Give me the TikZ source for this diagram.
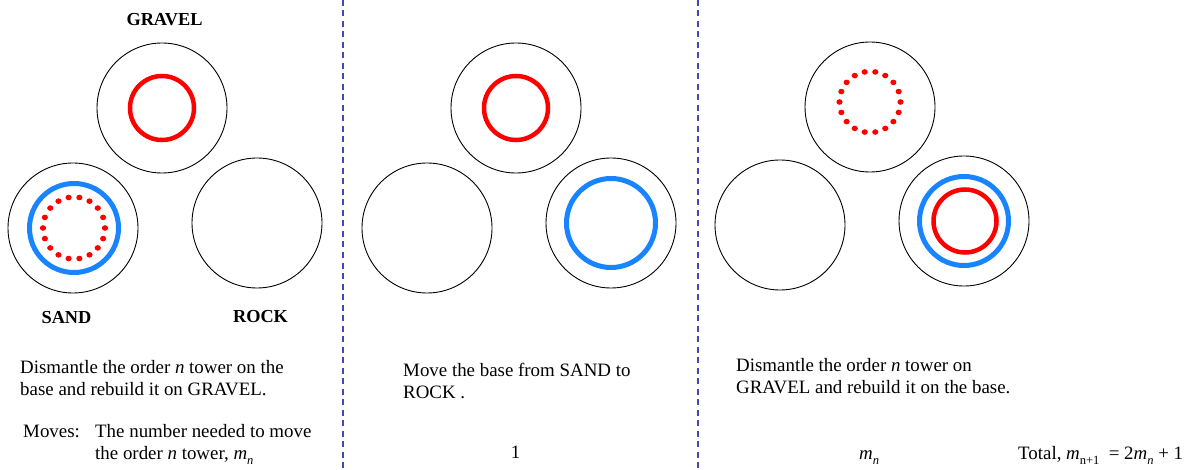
\documentclass[tikz,border=0pt]{standalone}
\usepackage{fontspec}
\setmainfont{Liberation Serif}
\definecolor{ringred}{RGB}{255,0,0}
\definecolor{ringblue}{RGB}{24,132,255}
\definecolor{divider}{RGB}{70,70,180}
% small lowered subscript for text-mode formulas
\newcommand\lowsub[1]{\raisebox{-0.3em}{\fontsize{12.5}{12.5}\selectfont #1}}
\begin{document}
\begin{tikzpicture}[x=1pt,y=-1pt,
  peg/.style={circle,draw=black,line width=0.9pt,minimum size=130pt,inner sep=0pt},
  bigdisc/.style={draw=ringblue,line width=5pt},
  smalldisc/.style={draw=ringred,line width=4.5pt},
  dot/.style={fill=ringred},
  pegname/.style={font=\fontsize{18.3}{18}\selectfont\bfseries,anchor=base,inner sep=0pt},
  txt/.style={font=\fontsize{18.9}{22}\selectfont,anchor=base west,inner sep=0pt},
  divline/.style={draw=divider,line width=1.2pt,dash pattern=on 6pt off 4.5pt}]
\useasboundingbox (0,0) rectangle (1193,470);

% panel dividers
\coordinate (d1t) at (343,0);   \coordinate (d1b) at (343,470);
\coordinate (d2t) at (698,0);   \coordinate (d2b) at (698,470);
\draw[divline] (d1t) -- (d1b);
\draw[divline] (d2t) -- (d2b);

% ---------- panel 1 ----------
\node[peg] (g1) at (162,108) {};
\node[peg] (s1) at (73,228) {};
\node[peg] (r1) at (257,223) {};
\draw[smalldisc] (g1.center) circle[radius=32];
\draw[bigdisc] ([xshift=1pt]s1.center) circle[radius=44.5];
\foreach \a in {0,20,...,340}
  \fill[dot,shift={([xshift=1pt]s1.center)}] (\a:31) ellipse[x radius=3.1,y radius=2.8];
\node[pegname] (lg) at (164.5,26) {GRAVEL};
\node[pegname] (ls) at (66.5,323) {SAND};
\node[pegname] (lr) at (260.5,322) {ROCK};

\node[txt] (t1a) at (20,373) {Dismantle the order \textit{n} tower on the};
\node[txt] (t1b) at (20,395) {base and rebuild it on GRAVEL.};
\node[txt] (mv)  at (23,437) {Moves:};
\node[txt] (t1c) at (95,437) {The number needed to move};
\node[txt] (t1d) at (95,459) {the order \textit{n} tower, \textit{m}\lowsub{\textit{n}}};

% ---------- panel 2 ----------
\node[peg] (g2) at (516,108) {};
\node[peg] (s2) at (427,228) {};
\node[peg] (r2) at (611,223) {};
\draw[smalldisc] (g2.center) circle[radius=32];
\draw[bigdisc] (r2.center) circle[radius=44.5];

\node[txt] (t2a) at (403,376) {Move the base from SAND to};
\node[txt] (t2b) at (403,398) {ROCK .};
\node[txt,anchor=base] (c2) at (515.5,458) {1};

% ---------- panel 3 ----------
\node[peg] (g3) at (870,107) {};
\node[peg] (s3) at (780,225) {};
\node[peg] (r3) at (964,221) {};
\foreach \a in {0,20,...,340}
  \fill[dot,shift={([yshift=5pt]g3.center)}] (\a:30.5) ellipse[x radius=3.1,y radius=2.8];
\draw[bigdisc] (r3.center) circle[radius=44.5];
\draw[smalldisc] ([xshift=1pt]r3.center) circle[radius=31.5];

\node[txt] (t3a) at (736,371) {Dismantle the order \textit{n} tower on};
\node[txt] (t3b) at (736,393) {GRAVEL and rebuild it on the base.};
\node[txt] (c3) at (859,459) {\textit{m}\lowsub{\textit{n}}};
\node[txt] (tot) at (1018,459) {Total, \textit{m}\lowsub{n+1}\ \ = 2\textit{m}\lowsub{\textit{n}} + 1};
\end{tikzpicture}
\end{document}
